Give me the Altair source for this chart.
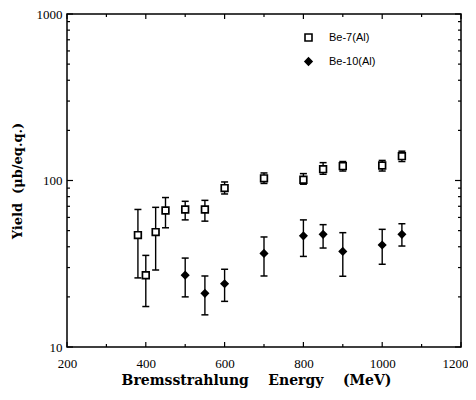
import altair as alt
import pandas as pd

# ---- data ----
be7_x = [380, 400, 425, 450, 500, 550, 600, 700, 800, 850, 900, 1000, 1050]
be7_y = [47, 27, 49, 66, 67, 67, 90, 103, 101, 117, 122, 123, 140]
be7_lo = [26, 17.5, 29, 52, 58, 57, 83, 96, 95, 109, 114, 114, 130]
be7_hi = [67, 35.5, 69, 79, 75, 76, 98, 111, 110, 128, 130, 132, 150]

be10_x = [500, 550, 600, 700, 800, 850, 900, 1000, 1050]
be10_y = [27, 21, 24, 36.5, 46.5, 47.5, 37.5, 41, 47.5]
be10_lo = [20, 15.6, 18.8, 26.7, 35, 39.3, 26.6, 31.4, 40.4]
be10_hi = [34.2, 26.7, 29.3, 45.8, 58, 54.3, 48.6, 50.9, 55]

series_names = ["Be-7(Al)", "Be-10(Al)"]

x_major = [200, 400, 600, 800, 1000, 1200]
x_minor = [300, 500, 700, 900, 1100]
y_major = [10, 100, 1000]
y_minor = [20, 30, 40, 50, 60, 70, 80, 90, 200, 300, 400, 500, 600, 700, 800, 900]

# ---- tables ----
df = pd.concat([
    pd.DataFrame({"x": be7_x, "y": be7_y, "lo": be7_lo, "hi": be7_hi, "s": series_names[0]}),
    pd.DataFrame({"x": be10_x, "y": be10_y, "lo": be10_lo, "hi": be10_hi, "s": series_names[1]}),
], ignore_index=True)

W, H = 394, 333
SERIF = "Liberation Serif"
NB = "\u00a0"

xs = alt.Scale(domain=[200, 1200], nice=False, zero=False)
ys = alt.Scale(type="log", domain=[10, 1000], nice=False)

xaxis = alt.Axis(values=x_major, format="d", ticks=False, domain=False, grid=False, labelFlush=False,
                 labelOffset={"condition": {"test": "datum.value == 1200", "value": -6}, "value": 0},
                 title="Bremsstrahlung" + NB * 4 + "Energy" + NB * 4 + "(MeV)",
                 labelFont=SERIF, labelFontSize=13, labelPadding=10, labelColor="black",
                 titleFont="DejaVu Serif", titleFontWeight="bold", titleFontSize=14,
                 titlePadding=3, titleColor="black", titleX=189)
yaxis = alt.Axis(values=y_major, format="d", ticks=False, domain=False, grid=False, labelFlush=False,
                 title="Yield" + NB * 2 + "(\u03bcb/eq.q.)",
                 labelFont=SERIF, labelFontSize=13, labelPadding=5, labelColor="black",
                 titleFont="DejaVu Serif", titleFontWeight="bold", titleFontSize=13,
                 titlePadding=12, titleColor="black")

X = alt.X("x:Q", scale=xs, axis=xaxis)

legend = alt.Legend(orient="none", legendX=236, legendY=18, title=None, padding=0,
                    rowPadding=9, labelFont="Liberation Sans", labelFontSize=11,
                    labelOffset=15, symbolSize=49, symbolStrokeWidth=1.6,
                    symbolStrokeColor="black", labelColor="black")

points = alt.Chart(df).mark_point(strokeWidth=1.7, opacity=1, size=45).encode(
    x=X,
    y=alt.Y("y:Q", scale=ys, axis=yaxis),
    shape=alt.Shape("s:N", scale=alt.Scale(domain=series_names, range=["square", "diamond"]), legend=legend),
    fill=alt.Fill("s:N", scale=alt.Scale(domain=series_names, range=["white", "black"]), legend=legend),
    stroke=alt.Stroke("s:N", scale=alt.Scale(domain=series_names, range=["black", "black"]), legend=legend),
)

bars = alt.Chart(df).mark_rule(color="black", strokeWidth=1.4).encode(
    x=X, y=alt.Y("lo:Q", scale=ys, axis=yaxis), y2="hi:Q")
cap_lo = alt.Chart(df).mark_tick(orient="horizontal", size=7, thickness=1.5, color="black", opacity=1).encode(
    x=X, y=alt.Y("lo:Q", scale=ys, axis=yaxis))
cap_hi = alt.Chart(df).mark_tick(orient="horizontal", size=7, thickness=1.5, color="black", opacity=1).encode(
    x=X, y=alt.Y("hi:Q", scale=ys, axis=yaxis))

def xticks(vals, ln):
    d = pd.DataFrame({"x": vals})
    b = alt.Chart(d).mark_rule(color="black", strokeWidth=1.2).encode(x=X, y=alt.value(H), y2=alt.value(H - ln))
    t = alt.Chart(d).mark_rule(color="black", strokeWidth=1.2).encode(x=X, y=alt.value(0), y2=alt.value(ln))
    return [b, t]

def yticks(vals, ln):
    d = pd.DataFrame({"y": vals})
    Y = alt.Y("y:Q", scale=ys, axis=yaxis)
    l = alt.Chart(d).mark_rule(color="black", strokeWidth=1.2).encode(y=Y, x=alt.value(0), x2=alt.value(ln))
    r = alt.Chart(d).mark_rule(color="black", strokeWidth=1.2).encode(y=Y, x=alt.value(W), x2=alt.value(W - ln))
    return [l, r]

layers = [bars, cap_lo, cap_hi, points] + xticks(x_major, 5) + xticks(x_minor, 3) + yticks(y_major, 6) + yticks(y_minor, 3)

chart = alt.layer(*layers).properties(
    width=W, height=H,
    autosize=alt.AutoSizeParams(type="none"),
    padding={"left": 59, "top": 6, "right": 7, "bottom": 45},
    background="white",
).configure_view(stroke="black", strokeWidth=1.5)

chart.save("out.html", embed_options={"renderer": "svg", "actions": False})
